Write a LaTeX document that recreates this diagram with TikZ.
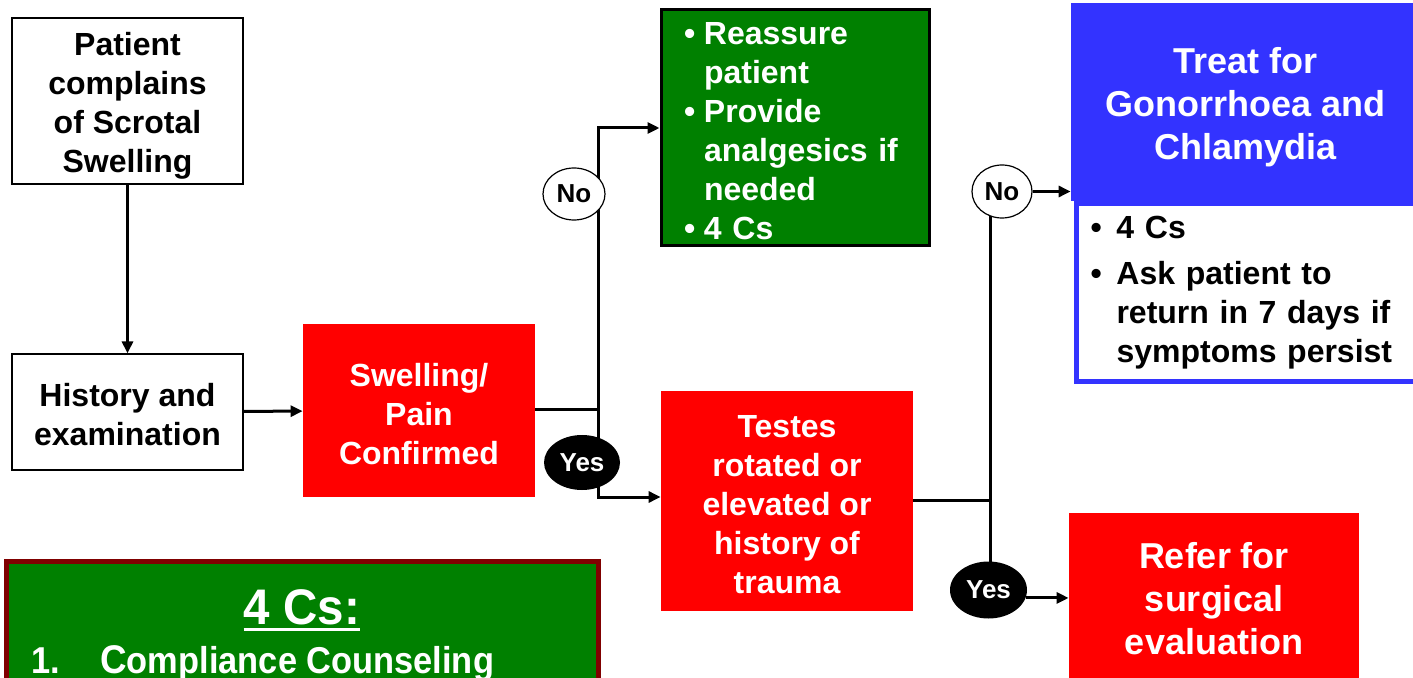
\documentclass[tikz,border=0pt]{standalone}
\usepackage{fontspec}
\setmainfont{Liberation Sans}
\usetikzlibrary{arrows.meta,shapes.geometric,backgrounds}
\definecolor{boxred}{HTML}{FF0000}
\definecolor{boxgreen}{HTML}{008000}
\definecolor{boxblue}{HTML}{3333FF}
\definecolor{darkmaroon}{HTML}{800000}
\newcommand{\lift}[1]{\rule{0pt}{#1}}
\tikzset{
  every node/.style={font=\bfseries},
  txt/.style={font=\fontsize{16}{19.5}\selectfont\bfseries},
  bigtxt/.style={font=\fontsize{18}{21.5}\selectfont\bfseries},
  whitebox/.style={draw=black, line width=0.6pt, fill=white, align=center, txt, inner sep=0pt},
  redbox/.style={fill=boxred, text=white, align=center, txt, inner sep=0pt},
  conn/.style={line width=1.5pt, black},
  arr/.style={conn, -{Triangle[length=6pt,width=5.5pt]}},
  nolbl/.style={ellipse, draw=black, line width=0.6pt, fill=white, inner sep=0pt, font=\fontsize{13}{15}\selectfont\bfseries},
  yeslbl/.style={ellipse, fill=black, text=white, inner sep=0pt, font=\fontsize{13}{15}\selectfont\bfseries},
}
\begin{document}
\begin{tikzpicture}[x=0.5pt,y=-0.5pt]
\useasboundingbox (0,0) rectangle (1413,678);
% boxes
\node[whitebox, minimum width=115.5pt, minimum height=83pt] (patient) at (127.5,101)
  {\lift{16.6pt}Patient\\complains\\of Scrotal\\Swelling};
\node[whitebox, minimum width=115.5pt, minimum height=58pt] (history) at (127.5,412)
  {\lift{13.8pt}History and\\examination};
\node[redbox, minimum width=116pt, minimum height=86.5pt] (swelling) at (419,410.5)
  {\lift{14.8pt}Swelling/\\Pain\\Confirmed};
\node[draw=black, line width=1.5pt, fill=boxgreen, text=white, txt, align=left,
  minimum width=134pt, minimum height=118pt, text width=111pt, inner xsep=11.5pt, inner ysep=0pt] (green) at (795,128)
  {\lift{14.6pt}\makebox[10pt][l]{\textbullet}Reassure\\
   \hspace*{10pt}patient\\
   \makebox[10pt][l]{\textbullet}Provide\\
   \hspace*{10pt}analgesics if\\
   \hspace*{10pt}needed\\
   \makebox[10pt][l]{\textbullet}4 Cs};
\node[redbox, minimum width=126pt, minimum height=110pt] (testes) at (787,501)
  {\lift{14.8pt}Testes\\rotated or\\elevated or\\history of\\trauma};
\node[fill=boxblue, text=white, bigtxt, align=center, minimum width=174.5pt, minimum height=99pt, inner sep=0pt] (treat) at (1245.5,102)
  {\lift{18.2pt}Treat for\\Gonorrhoea and\\Chlamydia};
\node[draw=boxblue, line width=2.5pt, fill=white, txt, align=left, minimum width=173pt, minimum height=89pt,
  text width=162pt, inner xsep=7pt, inner ysep=0pt, anchor=north west] (treatlist) at (1074,201)
  {\makebox[13pt][l]{\textbullet}4 Cs\\[3.5pt]
   \makebox[13pt][l]{\textbullet}Ask patient to\\
   \hspace*{13pt}return in 7 days if\\
   \hspace*{13pt}symptoms persist};
\node[redbox, bigtxt, minimum width=145pt, minimum height=86pt] (refer) at (1214,599)
  {Refer for\\surgical\\evaluation};
\node[draw=darkmaroon, line width=2.5pt, fill=boxgreen, minimum width=296pt, minimum height=75pt, inner sep=0pt, anchor=north west] (fourcs) at (4,559) {};
\node[text=white, anchor=base, inner sep=0pt, font=\fontsize{25}{30}\selectfont\bfseries] (fctitle) at (302,624)
  {\scalebox{0.95}[1]{4 Cs:}};
\node[text=white, anchor=base west, inner sep=0pt, font=\fontsize{18.7}{22}\selectfont\bfseries] (fcnum) at (31,673)
  {\scalebox{0.92}[1]{1.}};
\node[text=white, anchor=base west, inner sep=0pt, font=\fontsize{18.7}{22}\selectfont\bfseries] (fcitem) at (100,673)
  {\scalebox{0.92}[1]{{\fontsize{20}{22}\selectfont C}ompliance Counseling}};
% labels
\node[nolbl, minimum width=31pt, minimum height=26pt] (no1) at (574,194) {No};
\node[yeslbl, minimum width=38pt, minimum height=27.5pt] (yes1) at (582,462.5) {Yes};
\node[nolbl, minimum width=30pt, minimum height=26.5pt] (no2) at (1002,191.5) {No};
\node[yeslbl, minimum width=38.5pt, minimum height=28.5pt] (yes2) at (988.5,590) {Yes};
\coordinate (j1) at (598,410);
\coordinate (j2) at (990,500);
\begin{pgfonlayer}{background}
  \fill[white] (0,0) rectangle (1413,678);
  \draw[arr] (patient) -- (history);
  \draw[arr] (history) -- (swelling);
  \draw[conn] (swelling.east |- j1) -- (j1);
  \draw[arr] (j1) |- (green.west);
  \draw[arr] (j1) |- ([yshift=2pt]testes.west);
  \draw[conn] (testes.east |- j2) -- (j2);
  \draw[conn] (no2 -| j2) -- (yes2 -| j2);
  \draw[arr] (no2.east) -- (no2.east -| treat.west);
  \draw[arr] (yes2.-12) -- (yes2.-12 -| refer.west);
\end{pgfonlayer}
\draw[white, line width=1.5pt] ([yshift=-2.8pt]fctitle.base west) -- ([yshift=-2.8pt]fctitle.base east);
\end{tikzpicture}
\end{document}
